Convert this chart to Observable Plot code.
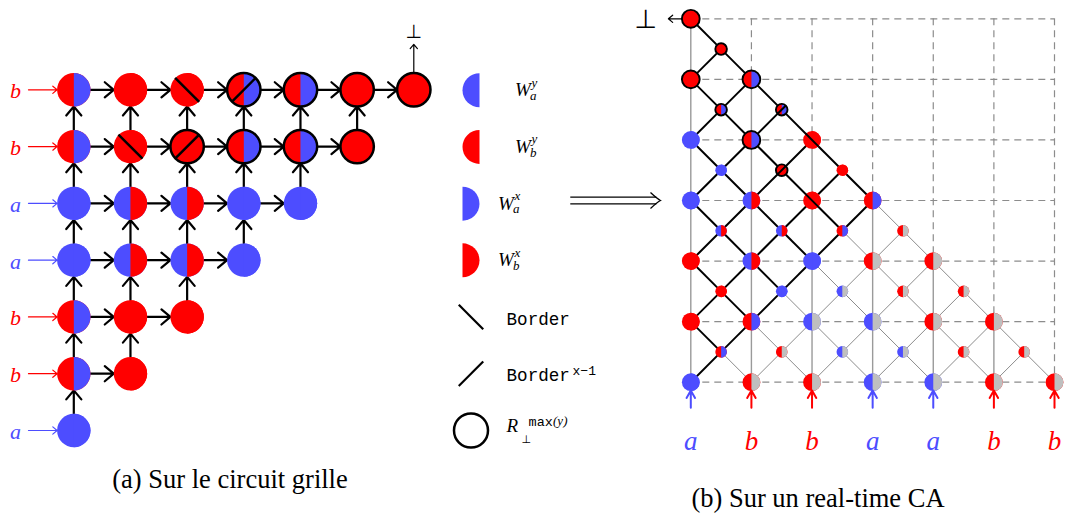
<!DOCTYPE html>
<html><head><meta charset="utf-8">
<script src="https://cdn.jsdelivr.net/npm/d3@7"></script>
<script src="https://cdn.jsdelivr.net/npm/@observablehq/plot@0.6"></script>
<style>
body{margin:0;background:#fff;}
#wrap{position:relative;width:1065px;height:517px;overflow:hidden;background:#fff;}
#wrap svg{position:absolute;left:0;top:0;}
.cap{position:absolute;font-family:"Liberation Serif","Times New Roman",serif;font-size:26.5px;line-height:30px;color:#000;white-space:nowrap;text-align:center;}
</style></head><body><div id="wrap"></div>
<script>
// ---------- data ----------
// input word (bottom→top rows of (a), left→right columns of (b))
const inputWord = ["a","b","b","a","a","b","b"];

// (a) grid circuit cells
const cellCol    = [0, 0,1, 0,1,2, 0,1,2,3, 0,1,2,3,4, 0,1,2,3,4,5, 0,1,2,3,4,5,6];
const cellRow    = [0, 1,1, 2,2,2, 3,3,3,3, 4,4,4,4,4, 5,5,5,5,5,5, 6,6,6,6,6,6,6];
const cellYState = ["a", "b","b", "b","b","b", "a","a","a","a", "a","a","a","a","a", "b","b","b","b","b","b", "b","b","b","b","b","b","b"];
const cellXState = ["a", "a","b", "a","b","b", "a","b","b","a", "a","b","b","a","a", "a","b","b","a","a","b", "a","b","b","a","a","b","b"];
const cellBorder = ["", "","", "","","", "","","","", "","","","","", "","\\","/","","","", "","","\\","/","","",""];
const cellRing   = [0, 0,0, 0,0,0, 0,0,0,0, 0,0,0,0,0, 0,0,1,1,1,1, 0,0,0,1,1,1,1];

// (b) real-time CA space-time nodes (g = inactive/gray half)
const nodeCol   = [0,1,2,3,4,5,6, 0,1,2,3,4,5, 0,1,2,3,4, 0,1,2,3, 0,1,2, 0,1, 0,
                   0.5,1.5,2.5,3.5,4.5,5.5, 0.5,1.5,2.5,3.5,4.5, 0.5,1.5,2.5,3.5, 0.5,1.5,2.5, 0.5,1.5, 0.5];
const nodeRow   = [0,0,0,0,0,0,0, 1,1,1,1,1,1, 2,2,2,2,2, 3,3,3,3, 4,4,4, 5,5, 6,
                   0.5,0.5,0.5,0.5,0.5,0.5, 1.5,1.5,1.5,1.5,1.5, 2.5,2.5,2.5,2.5, 3.5,3.5,3.5, 4.5,4.5, 5.5];
const nodeLeft  = ["a","b","b","a","a","b","b", "b","b","a","a","b","b", "b","a","a","b","b", "a","a","b","b", "a","b","b", "b","b", "b",
                   "b","b","a","a","b","b", "b","a","a","b","b", "a","a","b","b", "a","b","b", "b","b", "b"];
const nodeRight = ["a","g","g","g","g","g","g", "b","a","g","g","g","g", "b","b","a","g","g", "a","b","b","a", "a","a","b", "b","a", "b",
                   "a","g","g","g","g","g", "b","a","g","g","g", "b","b","a","g", "a","b","b", "a","a", "b"];
const nodeBorder= ["","","","","","","", "","","","","","", "","","","","", "","","\\","", "","","\\", "","", "",
                   "","","","","","", "","","","","", "","","","", "","/","", "","/", ""];
const nodeRing  = [0,0,0,0,0,0,0, 0,0,0,0,0,0, 0,0,0,0,0, 0,0,0,0, 0,1,0, 1,1, 1,
                   0,0,0,0,0,0, 0,0,0,0,0, 0,0,0,0, 0,1,0, 1,1, 1];
const gridLines = [0,1,2,3,4,5,6];

// legend
const legendKind    = ["yHalf","yHalf","xHalf","xHalf","border","borderInv","ring"];
const legendState   = ["a","b","a","b","","",""];
const legendMain    = ["W","W","W","W","Border","Border","R"];
const legendSub     = ["a","b","a","b","","","⊥"];
const legendSupMath = ["y","y","x","x","","","(y)"];
const legendSupMono = ["","","","","","x−1","max"];

// ---------- style ----------
const BLUE="#4d4dff", RED="#ff0000", GRAY="#bfbfbf";
const colorScale = {type:"ordinal", domain:["a","b","g"], range:[BLUE,RED,GRAY]};
const serif = "Liberation Serif, Times New Roman, serif";
const mono = "Liberation Mono, DejaVu Sans Mono, monospace";
const sym = "DejaVu Sans, sans-serif";
const tr = {background:"transparent", overflow:"visible"};

function half(side){return {draw(ctx,size){const r=Math.sqrt(size/Math.PI);ctx.moveTo(0,-r);ctx.arc(0,0,r,-Math.PI/2,Math.PI/2,side==="left");ctx.closePath();}};}
function slash(dir){return {draw(ctx,size){const k=Math.sqrt(size/Math.PI)*0.72;if(dir==="\\"){ctx.moveTo(-k,-k);ctx.lineTo(k,k);}else{ctx.moveTo(-k,k);ctx.lineTo(k,-k);}}};}
const chevron = {draw(ctx){ctx.moveTo(-10,-8);ctx.quadraticCurveTo(-3,-1.5,0,0);ctx.quadraticCurveTo(-3,1.5,-10,8);}};
const leftHalf = half("left"), rightHalf = half("right");

const wrap = document.getElementById("wrap");

// ---------- (a) ----------
const cells = cellCol.map((c,k)=>({col:c,row:cellRow[k],ys:cellYState[k],xs:cellXState[k],border:cellBorder[k],ring:cellRing[k]}));
const inputsA = inputWord.map((w,j)=>({w,row:j}));
const RA = 16.7;
const plotA = Plot.plot({
  width:1065,height:517,margin:0,style:tr,
  x:{axis:null,domain:[0,6],range:[73.3,413.3]},
  y:{axis:null,domain:[0,6],range:[430,89.3]},
  color:colorScale,
  marks:[
    Plot.arrow(cells.filter(d=>d.col<d.row),{x1:"col",y1:"row",x2:d=>d.col+1,y2:"row",insetStart:RA,insetEnd:RA,stroke:"black",strokeWidth:2.2,headLength:8,headAngle:80}),
    Plot.arrow(cells.filter(d=>d.row<6),{x1:"col",y1:"row",x2:"col",y2:d=>d.row+1,insetStart:RA,insetEnd:RA,stroke:"black",strokeWidth:2.2,headLength:8,headAngle:80}),
    Plot.arrow(cells.filter(d=>d.row===6&&d.col===6),{x1:"col",y1:"row",x2:"col",y2:d=>d.row+0.8,insetStart:RA,stroke:"black",strokeWidth:1.2,headLength:7,headAngle:80}),
    Plot.text(["⊥"],{x:6,y:7.02,text:d=>d,fontFamily:sym,fontSize:19,fill:"black"}),
    Plot.arrow(inputsA,{x1:-0.8,y1:"row",x2:0,y2:"row",insetEnd:RA,stroke:"w",strokeWidth:1.2,headLength:7,headAngle:80}),
    Plot.text(inputsA,{x:-1.03,y:"row",dy:1.5,text:"w",fill:"w",fontFamily:serif,fontStyle:"italic",fontSize:22}),
    Plot.dot(cells,{x:"col",y:"row",r:RA,fill:"ys",symbol:"circle"}),
    Plot.dot(cells,{x:"col",y:"row",r:RA,fill:"xs",symbol:rightHalf}),
    Plot.dot(cells.filter(d=>d.ring),{x:"col",y:"row",r:RA,fill:"none",stroke:"black",strokeWidth:2.5}),
    Plot.dot(cells.filter(d=>d.border==="\\"),{x:"col",y:"row",r:RA,symbol:slash("\\"),fill:"none",stroke:"black",strokeWidth:2.5}),
    Plot.dot(cells.filter(d=>d.border==="/"),{x:"col",y:"row",r:RA,symbol:slash("/"),fill:"none",stroke:"black",strokeWidth:2.5})
  ]
});
wrap.appendChild(plotA);

// ---------- legend ----------
const legend = legendKind.map((kind,k)=>({kind,k,state:legendState[k],main:legendMain[k],sub:legendSub[k],supMath:legendSupMath[k],supMono:legendSupMono[k],
  sx: kind==="yHalf"?1:kind==="xHalf"?0:0.5}));
legend.forEach(d=>{d.lx=d.sx+2.09;});
const isW = d=>d.main==="W";
const LR = 17;
const plotL = Plot.plot({
  width:1065,height:517,margin:0,style:tr,
  x:{axis:null,domain:[0,1],range:[462,479]},
  y:{axis:null,domain:[0,6],range:[89.7,430]},
  color:colorScale,
  marks:[
    Plot.dot(legend.filter(d=>d.kind==="yHalf"),{x:"sx",y:"k",r:LR,fill:"state",symbol:leftHalf}),
    Plot.dot(legend.filter(d=>d.kind==="xHalf"),{x:"sx",y:"k",r:LR,fill:"state",symbol:rightHalf}),
    Plot.dot(legend.filter(d=>d.kind==="border"),{x:"sx",y:"k",r:LR,symbol:slash("\\"),fill:"none",stroke:"black",strokeWidth:2.2}),
    Plot.dot(legend.filter(d=>d.kind==="borderInv"),{x:"sx",y:"k",r:LR,symbol:slash("/"),fill:"none",stroke:"black",strokeWidth:2.2}),
    Plot.dot(legend.filter(d=>d.kind==="ring"),{x:"sx",y:"k",r:LR,fill:"none",stroke:"black",strokeWidth:2.5}),
    // W labels
    Plot.text(legend.filter(isW),{x:"lx",y:"k",text:"main",textAnchor:"start",fontFamily:serif,fontStyle:"italic",fontSize:19,fill:"black"}),
    Plot.text(legend.filter(isW),{x:"lx",y:"k",text:"sub",dx:15,dy:5.6,textAnchor:"start",fontFamily:serif,fontStyle:"italic",fontSize:13,fill:"black"}),
    Plot.text(legend.filter(isW),{x:"lx",y:"k",text:"supMath",dx:16.5,dy:-7.6,textAnchor:"start",fontFamily:serif,fontStyle:"italic",fontSize:13,fill:"black"}),
    // Border labels
    Plot.text(legend.filter(d=>d.main==="Border"),{x:"lx",y:"k",text:"main",dy:1.8,textAnchor:"start",fontFamily:mono,fontSize:17.6,fill:"black"}),
    Plot.text(legend.filter(d=>d.kind==="borderInv"),{x:"lx",y:"k",text:"supMono",dx:66,dy:-3,textAnchor:"start",fontFamily:mono,fontSize:13,fill:"black"}),
    // R label
    Plot.text(legend.filter(d=>d.kind==="ring"),{x:"lx",y:"k",text:"main",dy:-4.4,textAnchor:"start",fontFamily:serif,fontStyle:"italic",fontSize:19,fill:"black"}),
    Plot.text(legend.filter(d=>d.kind==="ring"),{x:"lx",y:"k",text:"sub",dx:15,dy:8.5,textAnchor:"start",fontFamily:sym,fontSize:11,fill:"black"}),
    Plot.text(legend.filter(d=>d.kind==="ring"),{x:"lx",y:"k",text:"supMono",dx:22,dy:-8.5,textAnchor:"start",fontFamily:mono,fontSize:13.5,fill:"black"}),
    Plot.text(legend.filter(d=>d.kind==="ring"),{x:"lx",y:"k",text:"supMath",dx:46.5,dy:-9.5,textAnchor:"start",fontFamily:serif,fontStyle:"italic",fontSize:13,fill:"black"})
  ]
});
wrap.appendChild(plotL);

// ---------- (b) ----------
const nodes = nodeCol.map((c,k)=>({c,t:nodeRow[k],left:nodeLeft[k],right:nodeRight[k],border:nodeBorder[k],ring:nodeRing[k]}));
nodes.forEach(n=>{n.big=Number.isInteger(n.c);n.active=n.right!=="g";});
const edges=[];
for(const n of nodes)for(const m of nodes)if(Math.abs(m.c-n.c)===0.5&&m.t===n.t-0.5)edges.push({c1:n.c,t1:n.t,c2:m.c,t2:m.t,black:n.active&&m.active});
const cols = gridLines.map(c=>({c,top:d3.max(nodes.filter(n=>n.c===c),n=>n.t)}));
const inputsB = inputWord.map((w,c)=>({w,c}));
const RB=8.9, rb=5.8;
const big=nodes.filter(n=>n.big), small=nodes.filter(n=>!n.big);
const nodeMarks=(set,r)=>[
  Plot.dot(set,{x:"c",y:"t",r,fill:"left",symbol:"circle"}),
  Plot.dot(set,{x:"c",y:"t",r,fill:"right",symbol:rightHalf}),
  Plot.dot(set.filter(d=>d.ring),{x:"c",y:"t",r,fill:"none",stroke:"black",strokeWidth:1.9}),
  Plot.dot(set.filter(d=>d.border==="\\"),{x:"c",y:"t",r,symbol:slash("\\"),fill:"none",stroke:"black",strokeWidth:2}),
  Plot.dot(set.filter(d=>d.border==="/"),{x:"c",y:"t",r,symbol:slash("/"),fill:"none",stroke:"black",strokeWidth:2})
];
const plotB = Plot.plot({
  width:1065,height:517,margin:0,style:tr,
  x:{axis:null,domain:[0,6],range:[690.3,1054]},
  y:{axis:null,domain:[0,6],range:[381.7,18.3]},
  color:colorScale,
  marks:[
    Plot.ruleY(gridLines,{y:d=>d,x1:0,x2:6,stroke:"#8c8c8c",strokeWidth:1.2,strokeDasharray:"7,5"}),
    Plot.ruleX(cols.filter(d=>d.top<6),{x:"c",y1:6,y2:"top",stroke:"#8c8c8c",strokeWidth:1.2,strokeDasharray:"7,5"}),
    Plot.ruleX(cols.filter(d=>d.top>0),{x:"c",y1:"top",y2:0,stroke:"#9a9a9a",strokeWidth:1.4}),
    Plot.link(edges.filter(e=>!e.black),{x1:"c1",y1:"t1",x2:"c2",y2:"t2",stroke:"#8c8c8c",strokeWidth:1}),
    Plot.link(edges.filter(e=>e.black),{x1:"c1",y1:"t1",x2:"c2",y2:"t2",stroke:"black",strokeWidth:2}),
    ...nodeMarks(big,RB),
    ...nodeMarks(small,rb),
    Plot.arrow(inputsB,{x1:"c",y1:-0.42,x2:"c",y2:0,insetEnd:RB-0.5,stroke:"w",strokeWidth:2,headLength:8,headAngle:60}),
    Plot.text(inputsB,{x:"c",y:-0.97,text:"w",fill:"w",fontFamily:serif,fontStyle:"italic",fontSize:27}),
    Plot.arrow(nodes.filter(n=>n.t===6),{x1:"c",y1:"t",x2:-0.37,y2:"t",insetStart:RB,stroke:"black",strokeWidth:1.2,headLength:7,headAngle:80}),
    Plot.text(["⊥"],{x:-0.74,y:6,dy:1,text:d=>d,fontFamily:sym,fontSize:26,fill:"black"}),
    // ⟹ between (a)+legend and (b)
    Plot.ruleY([3],{y:d=>d,x1:-1.98,x2:-0.56,dy:-3.3,stroke:"black",strokeWidth:1.2}),
    Plot.ruleY([3],{y:d=>d,x1:-1.98,x2:-0.56,dy:3.3,stroke:"black",strokeWidth:1.2}),
    Plot.dot([3],{x:-0.5,y:d=>d,r:5,symbol:chevron,fill:"none",stroke:"black",strokeWidth:1.3})
  ]
});
wrap.appendChild(plotB);

// captions
const capA=document.createElement("div");capA.className="cap";capA.style.left="0px";capA.style.width="460px";capA.style.top="464px";capA.textContent="(a) Sur le circuit grille";wrap.appendChild(capA);
const capB=document.createElement("div");capB.className="cap";capB.style.left="618px";capB.style.width="400px";capB.style.top="483px";capB.textContent="(b) Sur un real-time CA";wrap.appendChild(capB);
</script></body></html>
